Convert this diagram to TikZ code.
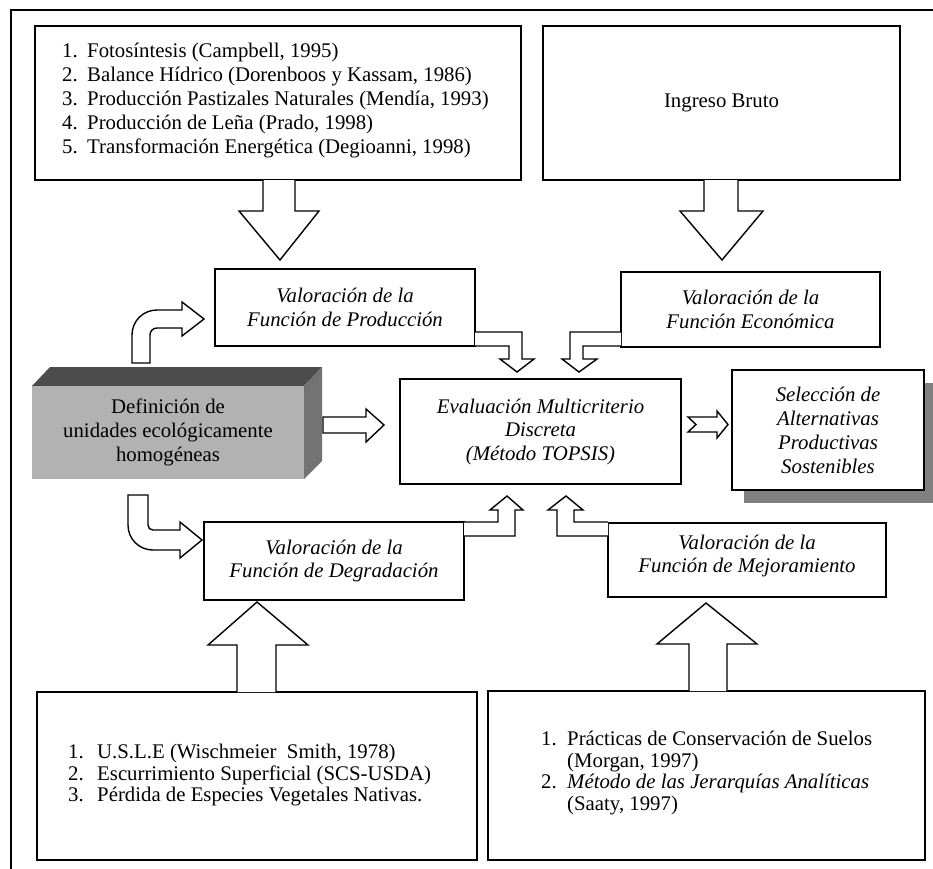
\documentclass[tikz,border=0pt]{standalone}
\usepackage{fontspec}
\setmainfont{Liberation Serif}
\definecolor{blkfront}{gray}{0.70}
\definecolor{blktop}{gray}{0.30}
\definecolor{blkside}{gray}{0.45}
\definecolor{shadowgray}{gray}{0.50}
\begin{document}
\begin{tikzpicture}[x=1pt,y=-1pt,line join=miter,
  box/.style={draw=black,line width=1.5pt,fill=white,inner sep=0pt,outer sep=0pt,align=center},
  itx/.style={font=\fontsize{20.8}{23.5}\selectfont\itshape},
  rmx/.style={font=\fontsize{20.8}{24}\selectfont},
  lst/.style={font=\fontsize{20.8}{24}\selectfont,inner sep=0pt,anchor=base west},
  barrow/.style={draw=black,line width=1.4pt,fill=white,line join=miter}
]
\useasboundingbox (0,0) rectangle (933,868);
\fill[white] (0,0) rectangle (933,868);
\draw[line width=1.6pt] (11,870) -- (11,10) -- (935,10);

% top boxes
\node[box,minimum width=486pt,minimum height=154pt] (src1) at (278,103) {};
\node[lst] (n11) at (62,57) {1.};
\node[lst] (t11) at (87,57) {Fotosíntesis (Campbell, 1995)};
\node[lst] (n12) at (62,81) {2.};
\node[lst] (t12) at (87,81) {Balance Hídrico (Dorenboos y Kassam, 1986)};
\node[lst] (n13) at (62,105) {3.};
\node[lst] (t13) at (87,105) {Producción Pastizales Naturales (Mendía, 1993)};
\node[lst] (n14) at (62,129) {4.};
\node[lst] (t14) at (87,129) {Producción de Leña (Prado, 1998)};
\node[lst] (n15) at (62,153) {5.};
\node[lst] (t15) at (87,153) {Transformación Energética (Degioanni, 1998)};

\node[box,rmx,minimum width=357pt,minimum height=154pt] (src2) at (721.5,103) {Ingreso Bruto};

% big arrows down
\draw[barrow] (263,180) -- (263,211) -- (239,211) -- (280,260) -- (319,211) -- (295,211) -- (295,180);
\draw[barrow] (704,180) -- (704,211) -- (680,211) -- (722,260) -- (763,211) -- (738,211) -- (738,180);

% valuation boxes
\node[box,itx,minimum width=260pt,minimum height=77pt] (prod) at (345,307.5) {Valoración de la\\Función de Producción};
\node[box,itx,minimum width=259pt,minimum height=75pt] (econ) at (750.5,309.5) {Valoración de la\\Función Económica};
\node[box,itx,minimum width=281pt,minimum height=105pt] (eval) at (540.5,431.5) {Evaluación Multicriterio\\Discreta\\(Método TOPSIS)};
\fill[shadowgray] (744,383) rectangle (940,503);
\node[box,minimum width=192pt,minimum height=120pt,font=\fontsize{20.8}{24}\selectfont\itshape] (sel) at (828,430) {Selección de\\Alternativas\\Productivas\\Sostenibles};
\node[box,itx,minimum width=260pt,minimum height=78pt] (degr) at (334,561) {Valoración de la\\Función de Degradación};
\node[box,minimum width=278pt,minimum height=74pt] (mej) at (747,560) {};
\node[itx,align=center,inner sep=0pt] (mejt) at (747,556) {Valoración de la\\Función de Mejoramiento};

% 3D block
\fill[blktop] (32,386) -- (50,367) -- (322,367) -- (304,386) -- cycle;
\fill[blkside] (304,386) -- (322,367) -- (322,461) -- (304,479) -- cycle;
\fill[blkfront] (32,386) rectangle (304,479);
\node[rmx,align=center,inner sep=0pt] (def) at (168,432) {Definición de\\unidades ecológicamente\\homogéneas};

% curved arrows from block
\draw[barrow] (132,363) -- (132,335) .. controls (132,321) and (143,310) .. (157,310) -- (182,310) -- (182,302) -- (204,319) -- (182,336) -- (182,328) -- (157,328) .. controls (153,328) and (150,331) .. (150,335) -- (150,363) -- cycle;
\draw[barrow] (128,495) -- (128,525) .. controls (128,539) and (139,550) .. (153,550) -- (180,550) -- (180,558) -- (202,540) -- (180,522) -- (180,530) -- (153,530) .. controls (150,530) and (148,528) .. (148,525) -- (148,495) -- cycle;

% block to evaluation
\draw[barrow] (323,417) -- (366,417) -- (366,409) -- (384,425) -- (366,442) -- (366,433) -- (323,433) -- cycle;
% evaluation to selection (notched)
\draw[barrow] (688,417) -- (717,417) -- (717,411) -- (728,424.5) -- (717,438) -- (717,432) -- (688,432) -- (696,424.5) -- cycle;

% small bent arrows into evaluation
\draw[barrow] (475,332) -- (522,332) -- (522,359) -- (534,359) -- (517,372) -- (500,359) -- (509,359) -- (509,346) -- (475,346);
\draw[barrow] (621,332) -- (570,332) -- (570,359) -- (562,359) -- (579,372) -- (597,359) -- (583,359) -- (583,346) -- (621,346);
\draw[barrow] (464,536) -- (515,536) -- (515,510) -- (523,510) -- (507,496) -- (490,510) -- (498,510) -- (498,522) -- (464,522);
\draw[barrow] (608,536) -- (557,536) -- (557,510) -- (548,510) -- (566,496) -- (583,510) -- (574,510) -- (574,522) -- (608,522);

% bottom boxes
\node[box,minimum width=440pt,minimum height=168pt] (src3) at (257,776) {};
\node[lst] (n31) at (68,758.5) {1.};
\node[lst] (t31) at (97,758.5) {U.S.L.E (Wischmeier\ \ Smith, 1978)};
\node[lst] (n32) at (68,780) {2.};
\node[lst] (t32) at (97,780) {Escurrimiento Superficial (SCS-USDA)};
\node[lst] (n33) at (68,801.5) {3.};
\node[lst] (t33) at (97,801.5) {Pérdida de Especies Vegetales Nativas.};

\node[box,minimum width=437pt,minimum height=169pt] (src4) at (706.5,775.5) {};
\node[lst] (n41) at (541,745.75) {1.};
\node[lst] (t41) at (567,745.75) {Prácticas de Conservación de Suelos};
\node[lst] (t42) at (567,767.25) {(Morgan, 1997)};
\node[lst] (n43) at (541,788.75) {2.};
\node[lst] (t43) at (567,788.75) {\itshape Método de las Jerarquías Analíticas};
\node[lst] (t44) at (567,810.25) {(Saaty, 1997)};

% big arrows up
\draw[barrow] (237,692) -- (237,645) -- (208,645) -- (257,602) -- (308,645) -- (276,645) -- (276,692);
\draw[barrow] (689,691) -- (689,644) -- (657,644) -- (706,603) -- (757,644) -- (727,644) -- (727,691);
\end{tikzpicture}
\end{document}
